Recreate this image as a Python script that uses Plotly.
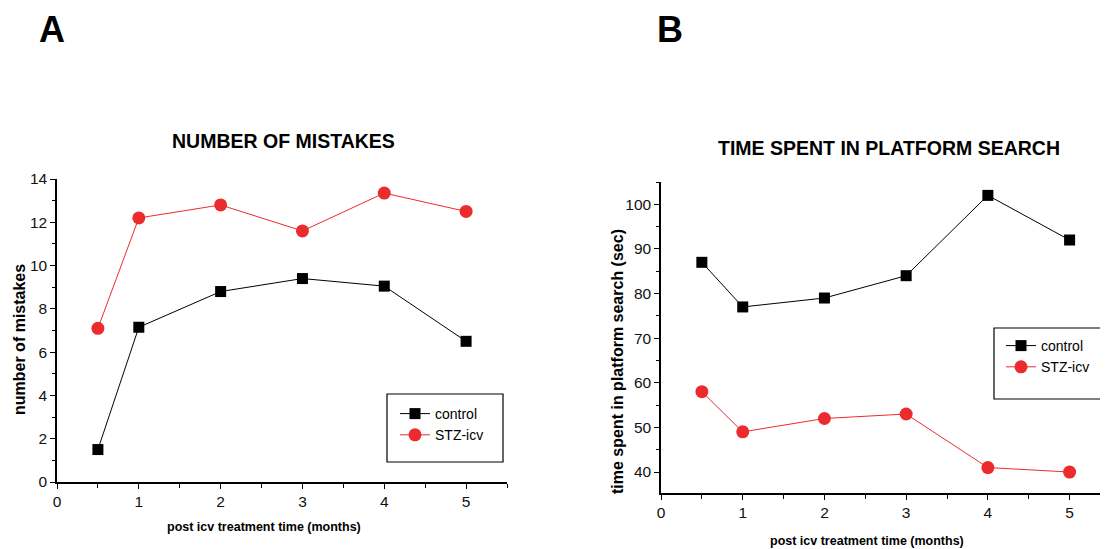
import plotly.graph_objects as go

# page has an 8px body margin, so the figure is drawn at (8, 8)
OFF = 8
W, H = 1108 - OFF, 549 - OFF

# ---- data ----
months = [0.5, 1, 2, 3, 4, 5]
mistakes_control = [1.5, 7.15, 8.8, 9.4, 9.05, 6.5]
mistakes_stz = [7.1, 12.2, 12.8, 11.6, 13.35, 12.5]
search_control = [87, 77, 79, 84, 102, 92]
search_stz = [58, 49, 52, 53, 41, 40]
series_names = ["control", "STZ-icv"]
x_ticks = [0, 1, 2, 3, 4, 5]
a_y_ticks = [0, 2, 4, 6, 8, 10, 12, 14]
b_y_ticks = [40, 50, 60, 70, 80, 90, 100]

RED = "#ec2b2e"
FONT = "Liberation Sans, Arial, sans-serif"


def px(x):
    return (x - OFF) / W


def py(y):
    return 1 - (y - OFF) / H


fig = go.Figure()

# Panel A
fig.add_trace(go.Scatter(x=months, y=mistakes_control, name=series_names[0], mode="lines+markers",
                         line=dict(color="black", width=1),
                         marker=dict(symbol="square", size=11, color="black"),
                         xaxis="x", yaxis="y", legend="legend"))
fig.add_trace(go.Scatter(x=months, y=mistakes_stz, name=series_names[1], mode="lines+markers",
                         line=dict(color=RED, width=1),
                         marker=dict(symbol="circle", size=13, color=RED),
                         xaxis="x", yaxis="y", legend="legend"))
# Panel B
fig.add_trace(go.Scatter(x=months, y=search_control, name=series_names[0], mode="lines+markers",
                         line=dict(color="black", width=1),
                         marker=dict(symbol="square", size=11, color="black"),
                         xaxis="x2", yaxis="y2", legend="legend2"))
fig.add_trace(go.Scatter(x=months, y=search_stz, name=series_names[1], mode="lines+markers",
                         line=dict(color=RED, width=1),
                         marker=dict(symbol="circle", size=13, color=RED),
                         xaxis="x2", yaxis="y2", legend="legend2"))

tickfont = dict(family=FONT, size=15.5, color="#111")
axis_common = dict(showline=True, linecolor="black", linewidth=1.5, ticks="outside",
                   ticklen=5, tickwidth=1, tickcolor="black", showgrid=False, zeroline=False,
                   tickfont=tickfont, fixedrange=True, automargin=False)

fig.update_layout(
    template="none",
    width=W, height=H, autosize=False,
    margin=dict(l=0, r=0, t=0, b=0, pad=0, autoexpand=False),
    paper_bgcolor="white", plot_bgcolor="white",
    font=dict(family=FONT, color="black"),
    xaxis=dict(domain=[px(57), px(507)], range=[0, 5.5], tickvals=x_ticks, anchor="y",
               minor=dict(dtick=0.5, tick0=0, ticks="outside", ticklen=4, tickcolor="black"),
               **axis_common),
    yaxis=dict(domain=[py(482), py(179)], range=[0, 14], tickvals=a_y_ticks, anchor="x",
               minor=dict(dtick=1, tick0=0, ticks="outside", ticklen=3, tickcolor="black"),
               **axis_common),
    xaxis2=dict(domain=[px(661), 1.0], range=[0, 5.47], tickvals=x_ticks, anchor="y2",
                minor=dict(dtick=0.5, tick0=0, ticks="outside", ticklen=4, tickcolor="black"),
                **axis_common),
    yaxis2=dict(domain=[py(493), py(182)], range=[35.3, 105], tickvals=b_y_ticks, anchor="x2",
                minor=dict(dtick=5, tick0=35, ticks="outside", ticklen=3, tickcolor="black"),
                **axis_common),
    legend=dict(x=px(395), y=py(398), xanchor="left", yanchor="top", bgcolor="rgba(0,0,0,0)",
                borderwidth=0, font=dict(family=FONT, size=14, color="black"),
                tracegroupgap=0, itemclick=False),
    legend2=dict(x=px(1001), y=py(330), xanchor="left", yanchor="top", bgcolor="rgba(0,0,0,0)",
                 borderwidth=0, font=dict(family=FONT, size=14, color="black"),
                 tracegroupgap=0, itemclick=False),
    showlegend=True,
)

# legend boxes
for (x0, y0, x1, y1) in [(387, 394, 503, 462), (994, 328, 1101, 399)]:
    fig.add_shape(type="rect", xref="paper", yref="paper",
                  x0=px(x0), x1=px(x1), y0=py(y0), y1=py(y1),
                  line=dict(color="black", width=1.2), fillcolor="rgba(0,0,0,0)")


def ann(text, x, y, size, bold=True, angle=0):
    fig.add_annotation(text=f"<b>{text}</b>" if bold else text, xref="paper", yref="paper",
                       x=px(x), y=py(y), xanchor="center", yanchor="middle", showarrow=False,
                       textangle=angle, font=dict(family=FONT, size=size, color="black"))


ann("A", 52, 30, 36)
ann("B", 670, 30, 36)
ann("NUMBER OF MISTAKES", 283, 141, 19.5)
ann("TIME SPENT IN PLATFORM SEARCH", 889, 148, 19.5)
ann("post icv treatment time (months)", 264, 527, 12.5)
ann("post icv treatment time (months)", 867, 541, 12.5)
ann("number of mistakes", 19, 340, 16, angle=-90)
ann("time spent in platform search (sec)", 617, 362, 16, angle=-90)

fig.write_html("out.html")
